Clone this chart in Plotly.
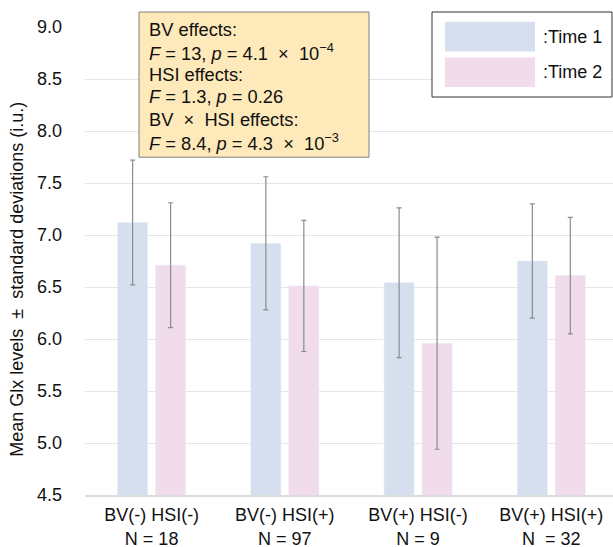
import plotly.graph_objects as go

categories = ["BV(-) HSI(-)<br>N = 18", "BV(-) HSI(+)<br>N = 97",
              "BV(+) HSI(-)<br>N = 9", "BV(+) HSI(+)<br>N\u00a0 = 32"]
time1 = [7.12, 6.92, 6.54, 6.75]
time1_sd = [0.60, 0.64, 0.72, 0.55]
time2 = [6.71, 6.51, 5.96, 6.61]
time2_sd = [0.60, 0.63, 1.02, 0.56]
series_names = [":Time 1", ":Time 2"]
y_ticks = [4.5, 5.0, 5.5, 6.0, 6.5, 7.0, 7.5, 8.0, 8.5, 9.0]
y_title = "Mean Glx levels\u00a0 \u00b1\u00a0 standard deviations (i.u.)"
stats_lines = [
    "BV effects:",
    "<i>F</i> = 13, <i>p</i> = 4.1 \u00a0\u00d7\u00a0 10<sup>\u22124</sup>",
    "HSI effects:",
    "<i>F</i> = 1.3, <i>p</i> = 0.26",
    "BV \u00a0\u00d7\u00a0 HSI effects:",
    "<i>F</i> = 8.4, <i>p</i> = 4.3 \u00a0\u00d7\u00a0 10<sup>\u22123</sup>",
]

FONT = "Liberation Sans, Arial, Helvetica, sans-serif"
C1 = "#d5dfee"
C2 = "#f1dcec"
ERR = "#8c8c8c"
TXT = "#111111"

fig = go.Figure()
fig.add_trace(go.Bar(x=categories, y=time1, name=series_names[0], marker_color=C1,
                     error_y=dict(type="data", array=time1_sd, color=ERR, thickness=1.2, width=2.5)))
fig.add_trace(go.Bar(x=categories, y=time2, name=series_names[1], marker_color=C2,
                     error_y=dict(type="data", array=time2_sd, color=ERR, thickness=1.2, width=2.5)))

fig.update_layout(
    width=613, height=547,
    margin=dict(l=85, r=0, t=27, b=52, autoexpand=False),
    paper_bgcolor="white", plot_bgcolor="white",
    barmode="group", bargap=0.43, bargroupgap=0.21,
    showlegend=False,
    font=dict(family=FONT, size=18, color=TXT),
)
fig.update_xaxes(type="category", range=[-0.5, 3.463], showgrid=False, automargin=False,
                 showline=True, linecolor="#dcdcdc", linewidth=1.5,
                 ticks="", tickfont=dict(size=18), ticklabelstandoff=3)
fig.update_yaxes(range=[4.5, 9.0], tickvals=y_ticks, tickformat=".1f", automargin=False,
                 showgrid=True, gridcolor="#e6e6e6", gridwidth=1.3,
                 zeroline=False, showline=False, ticks="",
                 ticklabelstandoff=22, tickfont=dict(size=18))

# helpers: plot area spans 468 px high (top 27.3) and 528 px wide (left 85)
def py(pix):
    return (495.3 - pix) / 468.0

def px(pix):
    return (pix - 85.0) / 528.0

# y-axis title
fig.add_annotation(xref="paper", yref="paper", x=px(17), y=py(280), xanchor="center", yanchor="middle",
                   textangle=-90, text=y_title, showarrow=False,
                   font=dict(family=FONT, size=18, color=TXT))

# statistics box
fig.add_shape(type="rect", xref="paper", yref="paper", x0=px(139), x1=px(369), y0=py(157.5), y1=py(12.3),
              line=dict(color="#808080", width=1), fillcolor="#fde9b9", layer="above")
for i, line in enumerate(stats_lines):
    fig.add_annotation(xref="paper", yref="paper", x=px(147), y=py(29.5 + 22.5 * i),
                       xanchor="left", yanchor="middle", align="left", showarrow=False,
                       text=line, font=dict(family=FONT, size=18.3, color=TXT))

# legend (drawn manually to match the large swatches)
fig.add_shape(type="rect", xref="paper", yref="paper", x0=px(432), x1=px(612), y0=py(97.3), y1=py(12.3),
              line=dict(color="#333333", width=1), fillcolor="white", layer="above")
fig.add_shape(type="rect", xref="paper", yref="paper", x0=px(445), x1=px(535), y0=py(51.7), y1=py(22),
              line=dict(width=0), fillcolor=C1, layer="above")
fig.add_shape(type="rect", xref="paper", yref="paper", x0=px(445), x1=px(535), y0=py(87.3), y1=py(57.7),
              line=dict(width=0), fillcolor=C2, layer="above")
fig.add_annotation(xref="paper", yref="paper", x=px(541), y=py(37), xanchor="left", yanchor="middle",
                   text=series_names[0], showarrow=False, font=dict(family=FONT, size=18, color=TXT))
fig.add_annotation(xref="paper", yref="paper", x=px(541), y=py(72.5), xanchor="left", yanchor="middle",
                   text=series_names[1], showarrow=False, font=dict(family=FONT, size=18, color=TXT))

fig.write_html("out.html", config={"displayModeBar": False},
               post_script="document.body.style.margin='0';document.body.style.overflow='hidden';")
